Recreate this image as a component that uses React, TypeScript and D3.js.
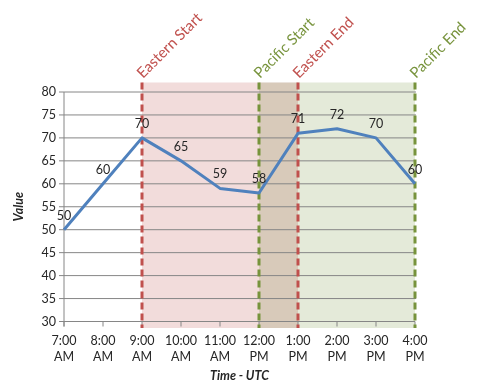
import React from "react";
import * as d3 from "d3";

const categories = ["7:00 AM", "8:00 AM", "9:00 AM", "10:00 AM", "11:00 AM", "12:00 PM", "1:00 PM", "2:00 PM", "3:00 PM", "4:00 PM"];
const values = [50, 60, 70, 65, 59, 58, 71, 72, 70, 60];
const yTicks = [30, 35, 40, 45, 50, 55, 60, 65, 70, 75, 80];
const regions = [
  { name: "Eastern", start: "9:00 AM", end: "1:00 PM", fill: "#f2dcdb", stroke: "#c0504d" },
  { name: "Pacific", start: "12:00 PM", end: "4:00 PM", fill: "#e4ead9", stroke: "#77933c" },
];
const markers = [
  { label: "Eastern Start", at: "9:00 AM", color: "#c0504d" },
  { label: "Pacific Start", at: "12:00 PM", color: "#77933c" },
  { label: "Eastern End", at: "1:00 PM", color: "#c0504d" },
  { label: "Pacific End", at: "4:00 PM", color: "#77933c" },
];

const W = 477, H = 387;
const left = 64, right = 415, top = 92, bottom = 321.5;
const font = "Lato, 'Open Sans', sans-serif";

export default function App() {
  const x = d3.scalePoint<string>().domain(categories).range([left, right]);
  const y = d3.scaleLinear().domain([30, 80]).range([bottom, top]);
  const line = d3.line<number>().x((_, i) => x(categories[i])!).y((d) => y(d));
  const shadeTop = 82.5, shadeBottom = 328;

  return (
    <svg width={W} height={H} style={{ position: "absolute", left: 0, top: 0, background: "#fff" }} fontFamily={font}>
      {regions.map((r) => (
        <rect key={r.name} x={x(r.start)!} y={shadeTop} width={x(r.end)! - x(r.start)!} height={shadeBottom - shadeTop}
          fill={r.fill} style={{ mixBlendMode: "multiply" }} />
      ))}
      {yTicks.map((t) => (
        <g key={t}>
          <line x1={left - 5} x2={t === 30 ? right : right + 1} y1={y(t)} y2={y(t)} stroke="#868686" strokeWidth={1} />
          <text x={left - 8} y={y(t)} dy="0.35em" textAnchor="end" fontSize={12.5} fill="#262626">{t}</text>
        </g>
      ))}
      <line x1={left} x2={left} y1={top} y2={bottom + 5} stroke="#868686" strokeWidth={1} />
      {categories.map((c) => {
        const [a, b] = c.split(" ");
        return (
          <g key={c}>
            <line x1={x(c)!} x2={x(c)!} y1={bottom} y2={bottom + 5} stroke="#868686" strokeWidth={1} />
            <text x={x(c)!} y={345} textAnchor="middle" fontSize={12.5} fill="#262626">{a}</text>
            <text x={x(c)!} y={361} textAnchor="middle" fontSize={12.5} fill="#262626">{b}</text>
          </g>
        );
      })}
      {markers.map((m) => (
        <g key={m.label}>
          <line x1={x(m.at)!} x2={x(m.at)!} y1={shadeTop} y2={shadeBottom} stroke={m.color} strokeWidth={3} strokeDasharray="7,4" />
          <text transform={`translate(${x(m.at)! + 1},${79}) rotate(-45)`} fontSize={15} fill={m.color}>{m.label}</text>
        </g>
      ))}
      <path d={line(values)!} fill="none" stroke="#4f81bd" strokeWidth={3} strokeLinejoin="round" />
      {values.map((v, i) => (
        <text key={i} x={x(categories[i])!} y={y(v) - 10} textAnchor="middle" fontSize={12.5} fill="#262626">{v}</text>
      ))}
      <text transform={`translate(23,${(top + bottom) / 2}) rotate(-90)`} textAnchor="middle" fontSize={12.5} fontWeight="bold" fontStyle="italic" fill="#262626">Value</text>
      <text x={(left + right) / 2} y={380} textAnchor="middle" fontSize={12.5} fontWeight="bold" fontStyle="italic" fill="#262626">Time - UTC</text>
    </svg>
  );
}
